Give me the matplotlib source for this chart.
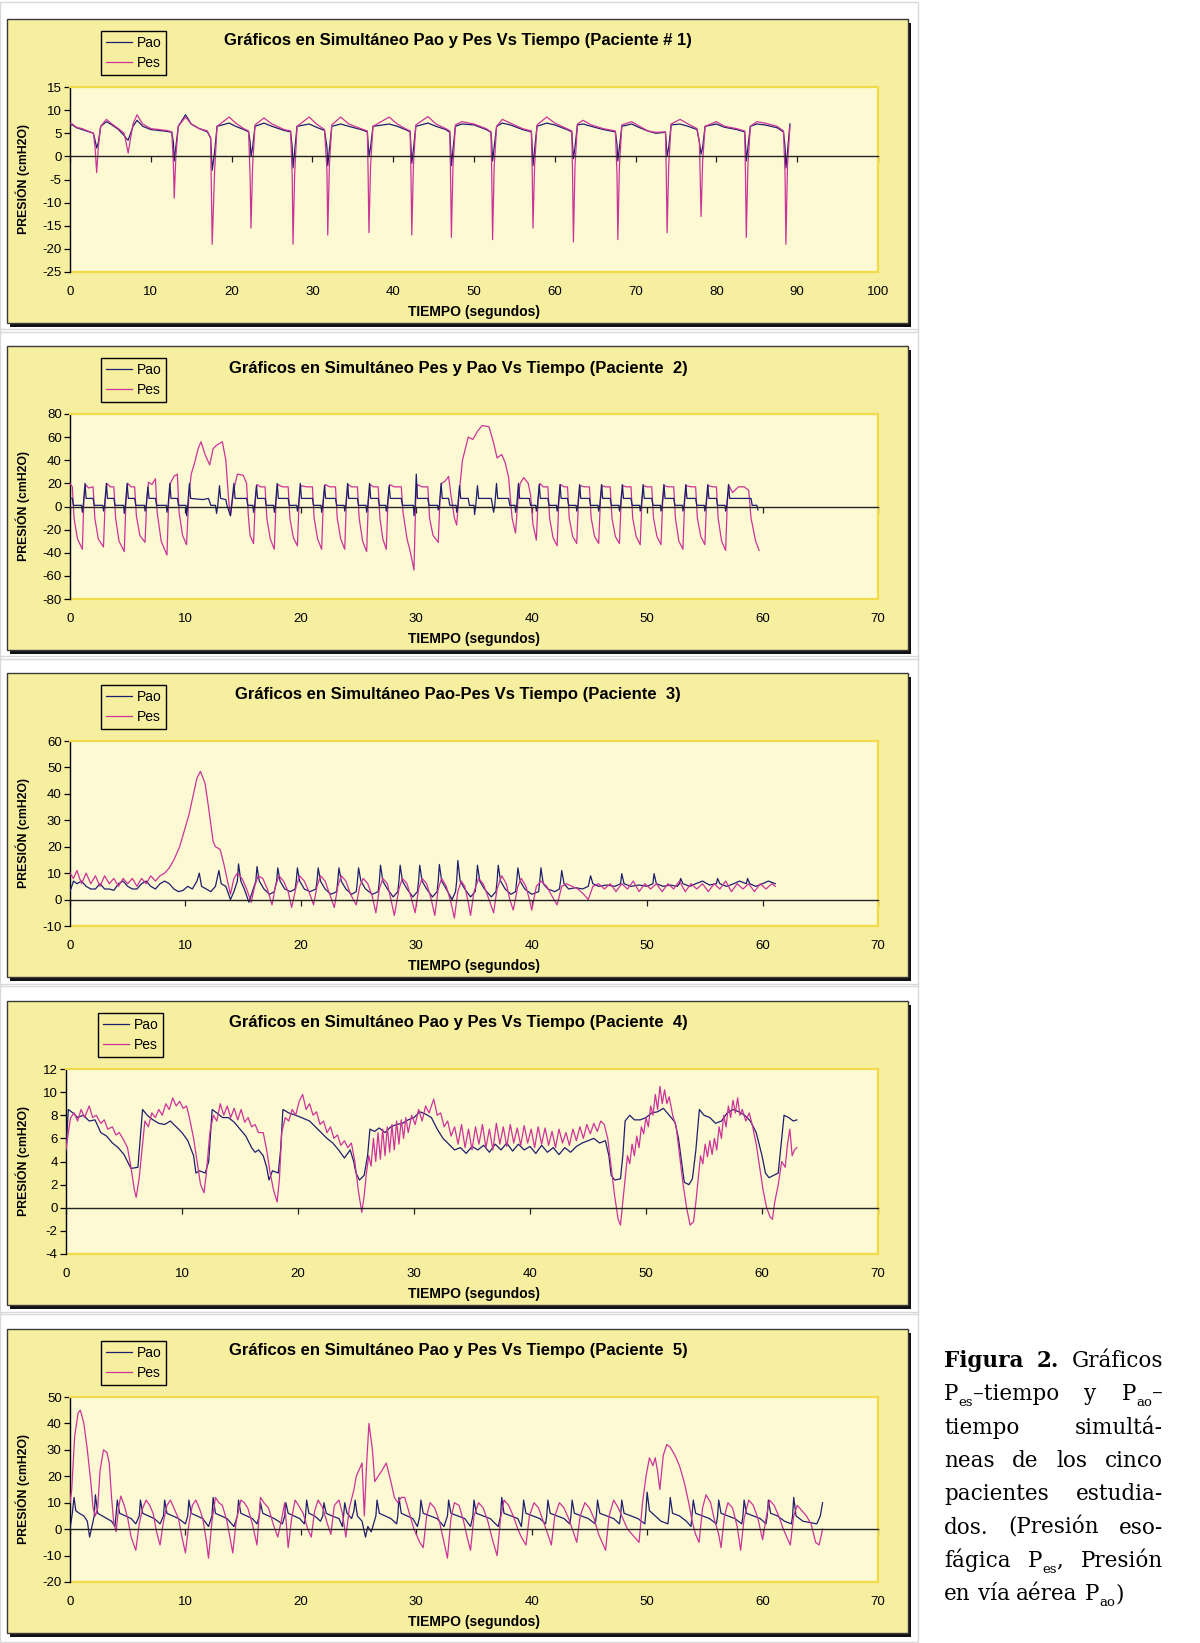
import matplotlib
matplotlib.use('Agg')
import matplotlib.pyplot as plt
from matplotlib.patches import Rectangle

plt.rcParams['axes.unicode_minus'] = False

# ---------------- DATA (time in s, pressure in cmH2O) ----------------
TITLES = [
    "Gráficos en Simultáneo Pao y Pes Vs Tiempo (Paciente # 1)",
    "Gráficos en Simultáneo Pes y Pao Vs Tiempo (Paciente  2)",
    "Gráficos en Simultáneo Pao-Pes Vs Tiempo (Paciente  3)",
    "Gráficos en Simultáneo Pao y Pes Vs Tiempo (Paciente  4)",
    "Gráficos en Simultáneo Pao y Pes Vs Tiempo (Paciente  5)",
]
SERIES_NAMES = ["Pao", "Pes"]
X_LABEL = "TIEMPO (segundos)"
Y_LABEL = "PRESIÓN (cmH2O)"

X_TICKS = [list(range(0, 101, 10)), list(range(0, 71, 10)), list(range(0, 71, 10)),
           list(range(0, 71, 10)), list(range(0, 71, 10))]
Y_TICKS = [list(range(-25, 16, 5)), list(range(-80, 81, 20)), list(range(-10, 61, 10)),
           list(range(-4, 13, 2)), list(range(-20, 51, 10))]

P1_PES = [(0.0, 7.2), (0.3, 7.0), (0.8, 6.3), (1.5, 6.0), (2.2, 5.5), (2.9, 5.0), (3.1, 2.0), (3.3, -3.5),
          (3.5, 2.0), (3.8, 6.5), (4.5, 8.0), (5.2, 7.0), (6.0, 6.0), (6.7, 5.0), (7.0, 2.5), (7.2, 0.7),
          (7.5, 4.0), (7.8, 7.0), (8.3, 9.0), (9.0, 7.0), (10.0, 6.0), (11.0, 5.8), (12.0, 5.6), (12.6, 5.3),
          (12.8, -2), (12.9, -9), (13.1, 0), (13.4, 6.5), (14.3, 8.5), (15.0, 7.0), (16.0, 6.0), (17.0, 5.5),
          (17.4, 4.0), (17.6, -19), (17.9, -3), (18.2, 6.5), (19.7, 8.5), (20.5, 7.2), (21.5, 6.0), (22.1, 5.5),
          (22.3, -5), (22.4, -15.5), (22.6, -2), (22.9, 6.8), (24.0, 8.3), (25.0, 7.0), (26.5, 5.8), (27.3, 5.5),
          (27.5, -4), (27.6, -19), (27.8, -4), (28.1, 6.5), (29.6, 8.5), (30.5, 7.0), (31.5, 5.8), (31.8, -3),
          (31.9, -17), (32.1, -2), (32.4, 6.8), (33.5, 8.5), (34.5, 7.0), (36.0, 6.0), (36.8, 5.5), (36.9, -4),
          (37.0, -16.5), (37.2, -2), (37.5, 6.5), (39.5, 8.5), (40.5, 7.0), (41.5, 6.0), (42.1, 5.5), (42.2, -4),
          (42.3, -17), (42.5, -2), (42.8, 6.8), (44.3, 8.6), (45.3, 7.0), (46.5, 6.0), (47.0, 5.5), (47.1, -4),
          (47.2, -17.5), (47.4, -2), (47.7, 6.8), (48.5, 7.5), (50.0, 7.0), (51.5, 6.0), (52.1, 5.3), (52.2, -4),
          (52.3, -18), (52.5, -2), (52.8, 6.5), (53.5, 8.0), (54.5, 7.2), (56.0, 6.0), (57.1, 5.5), (57.2, -3),
          (57.3, -15.5), (57.5, -2), (57.8, 6.8), (59.0, 8.5), (60.0, 7.2), (61.5, 6.0), (62.1, 5.5), (62.2, -4),
          (62.3, -18.5), (62.5, -2), (62.8, 7.0), (63.5, 7.8), (64.5, 6.8), (66.0, 6.0), (67.5, 5.5), (67.7, -4),
          (67.8, -18), (68.0, -2), (68.3, 6.8), (69.5, 7.5), (70.5, 6.5), (71.5, 5.5), (72.5, 5.2), (73.7, 5.3),
          (73.8, -4), (73.9, -16.5), (74.1, -2), (74.4, 7.0), (75.5, 8.0), (76.5, 7.0), (77.6, 6.0), (77.9, 3),
          (78.1, -13), (78.3, -1), (78.6, 6.5), (80.0, 7.5), (81.0, 6.5), (82.5, 6.0), (83.5, 5.5), (83.6, -4),
          (83.7, -17.5), (83.9, -2), (84.2, 6.5), (85.0, 7.5), (86.0, 7.2), (87.5, 6.5), (88.3, 5.5), (88.5, -4),
          (88.6, -19), (88.8, -2), (89.1, 6.5)]

P1_PAO = [(0.0, 6.8), (0.3, 6.8), (0.8, 6.2), (1.5, 5.8), (2.2, 5.4), (2.9, 5.0), (3.1, 3.5), (3.3, 1.8),
          (3.5, 3.0), (3.8, 6.5), (4.5, 7.5), (5.2, 6.8), (6.0, 5.8), (6.7, 4.5), (7.0, 3.8), (7.2, 3.5),
          (7.5, 5.0), (7.8, 6.5), (8.3, 7.8), (9.0, 6.5), (10.0, 5.8), (11.0, 5.6), (12.0, 5.4), (12.6, 5.2),
          (12.8, 3.0), (12.9, -1.0), (13.1, 2.0), (13.4, 6.5), (14.3, 9.0), (15.0, 7.0), (16.0, 6.0), (17.0, 5.3),
          (17.4, 4.0), (17.6, -3.0), (17.9, 1.0), (18.2, 6.5), (19.7, 7.2), (20.5, 6.5), (21.5, 5.8), (22.1, 5.3),
          (22.3, 3), (22.4, 0), (22.6, 2), (22.9, 6.5), (24.0, 7.2), (25.0, 6.5), (26.5, 5.6), (27.3, 5.3),
          (27.5, 2), (27.6, -2.5), (27.8, 1), (28.1, 6.5), (29.6, 7.0), (30.5, 6.3), (31.5, 5.6), (31.8, 2),
          (31.9, -2), (32.1, 1.5), (32.4, 6.5), (33.5, 7.0), (34.5, 6.5), (36.0, 5.8), (36.8, 5.3), (36.9, 2.5),
          (37.0, 0), (37.2, 2), (37.5, 6.5), (39.5, 7.0), (40.5, 6.5), (41.5, 5.8), (42.1, 5.3), (42.2, 2),
          (42.3, -1.5), (42.5, 1.5), (42.8, 6.5), (44.3, 7.2), (45.3, 6.5), (46.5, 5.8), (47.0, 5.2), (47.1, 2),
          (47.2, -2.0), (47.4, 1.5), (47.7, 6.5), (48.5, 7.0), (50.0, 6.8), (51.5, 5.8), (52.1, 5.2), (52.2, 2.5),
          (52.3, -1.0), (52.5, 2), (52.8, 6.5), (53.5, 7.2), (54.5, 6.8), (56.0, 5.8), (57.1, 5.3), (57.2, 2),
          (57.3, -2.0), (57.5, 1.5), (57.8, 6.5), (59.0, 7.2), (60.0, 6.8), (61.5, 5.8), (62.1, 5.3), (62.2, 2.5),
          (62.3, -0.5), (62.5, 2), (62.8, 6.8), (63.5, 7.0), (64.5, 6.5), (66.0, 5.8), (67.5, 5.3), (67.7, 2.5),
          (67.8, -1.0), (68.0, 2), (68.3, 6.5), (69.5, 7.0), (70.5, 6.2), (71.5, 5.5), (72.5, 5.0), (73.7, 5.2),
          (73.8, 2.5), (73.9, 0), (74.1, 2), (74.4, 6.8), (75.5, 7.0), (76.5, 6.5), (77.6, 5.8), (77.9, 3),
          (78.1, 0.5), (78.3, 2), (78.6, 6.5), (80.0, 7.0), (81.0, 6.3), (82.5, 5.8), (83.5, 5.3), (83.6, 2.5),
          (83.7, -1.0), (83.9, 2), (84.2, 6.5), (85.0, 7.0), (86.0, 6.8), (87.5, 6.2), (88.3, 5.3), (88.5, 2),
          (88.6, -2.5), (88.8, 1.0), (89.1, 7.0)]

P2_PES = [(0.0, 20), (0.2, 17), (0.35, -10), (0.65, -28), (1.07, -37), (1.2, 5), (1.35, 19), (1.6, 16),
          (2.0, 17), (2.15, -10), (2.45, -28), (2.9, -35), (3.05, 5), (3.2, 20), (3.5, 17), (3.8, 17),
          (3.95, -10), (4.25, -30), (4.7, -39), (4.85, 5), (5.0, 20), (5.3, 17), (5.6, 17), (5.75, -8),
          (6.05, -25), (6.5, -31), (6.65, 5), (6.8, 21), (7.1, 19), (7.4, 24), (7.55, -5), (7.9, -30),
          (8.4, -42), (8.55, 5), (8.7, 20), (9.0, 26), (9.3, 28), (9.45, -5), (9.75, -25), (10.1, -33),
          (10.3, 10), (10.5, 28), (10.8, 38), (11.1, 50), (11.35, 56), (11.7, 45), (12.1, 36), (12.4, 50),
          (12.7, 53), (13.2, 56), (13.5, 40), (13.75, 5), (13.9, -8), (14.2, 15), (14.5, 28), (15.0, 27),
          (15.3, 20), (15.45, -8), (15.6, -25), (15.9, -32), (16.05, 5), (16.2, 19), (16.5, 17), (16.9, 17),
          (17.05, -10), (17.35, -28), (17.7, -37), (17.85, 5), (18.0, 19), (18.4, 17), (18.9, 17), (19.05, -10),
          (19.35, -27), (19.7, -34), (19.85, 5), (20.0, 18), (20.5, 17), (21.0, 17), (21.15, -10), (21.45, -28),
          (21.8, -37), (21.95, 5), (22.1, 19), (22.5, 17), (23.0, 17), (23.15, -10), (23.45, -28), (23.8, -37),
          (23.95, 5), (24.1, 19), (24.4, 17), (24.9, 17), (25.05, -10), (25.35, -30), (25.7, -39), (25.85, 5),
          (26.0, 19), (26.3, 17), (26.7, 17), (26.85, -10), (27.1, -28), (27.4, -37), (27.55, 5), (27.7, 19),
          (28.1, 17), (28.7, 17), (28.85, -5), (29.2, -28), (29.5, -40), (29.8, -55), (29.95, 5), (30.1, 19),
          (30.5, 17), (31.0, 17), (31.15, -10), (31.45, -25), (31.9, -31), (32.05, 5), (32.2, 20), (32.5, 22),
          (32.8, 26), (33.0, 10), (33.3, -10), (33.5, -16), (33.7, 10), (34.0, 40), (34.5, 60), (34.9, 58),
          (35.3, 65), (35.7, 70), (36.3, 69), (36.7, 55), (37.0, 42), (37.4, 45), (37.7, 38), (38.0, 25),
          (38.3, -10), (38.6, -23), (38.8, 5), (39.0, 20), (39.3, 25), (39.7, 20), (39.9, 10), (40.1, -15),
          (40.4, -29), (40.55, 5), (40.7, 20), (41.0, 17), (41.4, 17), (41.55, -10), (41.85, -27), (42.2, -34),
          (42.35, 5), (42.5, 19), (42.8, 17), (43.1, 17), (43.25, -10), (43.55, -26), (43.9, -32), (44.05, 5),
          (44.2, 18), (44.6, 17), (45.0, 17), (45.15, -10), (45.45, -26), (45.8, -32), (45.95, 5), (46.1, 18),
          (46.4, 17), (46.8, 17), (46.95, -10), (47.25, -26), (47.6, -32), (47.75, 5), (47.9, 18), (48.2, 17),
          (48.6, 17), (48.75, -10), (49.05, -26), (49.4, -33), (49.55, 5), (49.7, 18), (50.0, 17), (50.4, 17),
          (50.55, -10), (50.85, -26), (51.2, -33), (51.35, 5), (51.5, 18), (51.8, 17), (52.3, 17), (52.45, -10),
          (52.75, -30), (53.1, -37), (53.25, 5), (53.4, 18), (53.8, 17), (54.2, 17), (54.35, -10), (54.65, -26),
          (55.0, -33), (55.15, 5), (55.3, 18), (55.7, 17), (56.0, 17), (56.15, -10), (56.45, -30), (56.8, -38),
          (56.95, 5), (57.1, 18), (57.4, 12), (57.9, 17), (58.4, 17), (58.8, 14), (59.0, -10), (59.4, -30),
          (59.7, -38)]

P2_PAO = [(0.0, 7), (0.2, 7), (0.3, 1), (1.0, 1), (1.07, -5), (1.15, 1), (1.3, 20), (1.4, 7), (2.0, 7),
          (2.1, 1), (2.85, 1), (2.9, -4), (3.0, 1), (3.15, 20), (3.25, 7), (3.8, 7), (3.9, 1), (4.65, 1),
          (4.7, -6), (4.8, 1), (4.95, 20), (5.05, 7), (5.6, 7), (5.7, 1), (6.45, 1), (6.5, -4), (6.6, 1),
          (6.75, 17), (6.85, 7), (7.4, 7), (7.5, 1), (8.35, 1), (8.4, -5), (8.5, 1), (8.65, 20), (8.75, 7),
          (9.3, 7), (9.4, 1), (10.05, 1), (10.1, -8), (10.2, 1), (10.35, 20), (10.45, 7), (11.5, 6), (12.0, 7),
          (12.2, 1), (12.6, 1), (12.7, -6), (12.8, 1), (12.95, 18), (13.05, 7), (13.5, 6), (13.6, 1), (13.9, -8),
          (14.0, 1), (14.2, 20), (14.3, 7), (15.3, 7), (15.4, 1), (15.85, 1), (15.9, -5), (16.0, 1), (16.15, 18),
          (16.25, 7), (16.9, 7), (17.0, 1), (17.65, 1), (17.7, -5), (17.8, 1), (17.95, 20), (18.05, 7),
          (18.9, 7), (19.0, 1), (19.65, 1), (19.7, -4), (19.8, 1), (19.95, 20), (20.05, 7), (21.0, 7), (21.1, 1),
          (21.75, 1), (21.8, -5), (21.9, 1), (22.05, 18), (22.15, 7), (23.0, 7), (23.1, 1), (23.75, 1),
          (23.8, -4), (23.9, 1), (24.05, 20), (24.15, 7), (24.9, 7), (25.0, 1), (25.65, 1), (25.7, -5),
          (25.8, 1), (25.95, 20), (26.05, 7), (26.7, 7), (26.8, 1), (27.35, 1), (27.4, -4), (27.5, 1),
          (27.65, 18), (27.75, 7), (28.7, 7), (28.8, 1), (29.75, 1), (29.8, -8), (29.9, 1), (30.0, 28),
          (30.1, 7), (31.0, 7), (31.1, 1), (31.85, 1), (31.9, -3), (32.0, 1), (32.15, 20), (32.25, 7),
          (32.8, 7), (32.9, 1), (33.45, 1), (33.5, -5), (33.6, 1), (33.75, 18), (33.85, 7), (34.5, 7),
          (34.6, 1), (35.0, 1), (35.05, -7), (35.15, 1), (35.3, 18), (35.4, 7), (36.5, 7), (36.6, 1),
          (36.7, -5), (36.8, 1), (36.95, 20), (37.05, 7), (38.0, 7), (38.1, 1), (38.55, 1), (38.6, -5),
          (38.7, 1), (38.85, 20), (38.95, 7), (39.8, 7), (39.9, 1), (40.35, 1), (40.4, -4), (40.5, 1),
          (40.65, 19), (40.75, 7), (41.4, 7), (41.5, 1), (42.15, 1), (42.2, -4), (42.3, 1), (42.45, 19),
          (42.55, 7), (43.1, 7), (43.2, 1), (43.85, 1), (43.9, -4), (44.0, 1), (44.15, 19), (44.25, 7),
          (45.0, 7), (45.1, 1), (45.75, 1), (45.8, -4), (45.9, 1), (46.05, 19), (46.15, 7), (46.8, 7),
          (46.9, 1), (47.55, 1), (47.6, -4), (47.7, 1), (47.85, 19), (47.95, 7), (48.6, 7), (48.7, 1),
          (49.35, 1), (49.4, -4), (49.5, 1), (49.65, 19), (49.75, 7), (50.4, 7), (50.5, 1), (51.15, 1),
          (51.2, -4), (51.3, 1), (51.45, 19), (51.55, 7), (52.3, 7), (52.4, 1), (53.05, 1), (53.1, -4),
          (53.2, 1), (53.35, 19), (53.45, 7), (54.2, 7), (54.3, 1), (54.95, 1), (55.0, -4), (55.1, 1),
          (55.25, 19), (55.35, 7), (56.0, 7), (56.1, 1), (56.75, 1), (56.8, -4), (56.9, 1), (57.05, 19),
          (57.15, 7), (59.0, 7), (59.1, 1), (59.5, 1), (59.6, -3)]

P3_PES = [(0.0, 10), (0.3, 8), (0.6, 11), (1.0, 6), (1.4, 10), (1.8, 6), (2.2, 9), (2.6, 5), (3.0, 9),
          (3.4, 6), (3.8, 8), (4.2, 5), (4.6, 8), (5.0, 6), (5.4, 8), (5.8, 5), (6.2, 8), (6.6, 6), (7.0, 9),
          (7.4, 7), (7.8, 9), (8.2, 10), (8.6, 12), (9.0, 15), (9.5, 20), (9.9, 26), (10.3, 32), (10.7, 40),
          (11.0, 46), (11.3, 48.5), (11.7, 44), (12.0, 35), (12.4, 22), (12.6, 20), (13.0, 19), (13.3, 14),
          (13.6, 8), (13.9, 2), (14.2, 8), (14.5, 10), (14.9, 8), (15.3, 4), (15.7, -1), (16.0, 5), (16.3, 9),
          (16.7, 8), (17.1, 4), (17.5, -2), (17.8, 5), (18.1, 9), (18.5, 7), (18.9, 3), (19.2, -3), (19.6, 5),
          (19.9, 9), (20.3, 7), (20.7, 3), (21.1, -2), (21.4, 5), (21.7, 9), (22.1, 7), (22.5, 2), (22.9, -3),
          (23.2, 5), (23.5, 9), (23.9, 7), (24.3, 2), (24.8, -2), (25.1, 5), (25.4, 8), (25.8, 6), (26.2, 1),
          (26.5, -5), (26.8, 4), (27.1, 8), (27.5, 6), (27.8, 0), (28.1, -6), (28.5, 4), (28.8, 8), (29.2, 6),
          (29.6, 0), (29.9, -5), (30.2, 4), (30.5, 8), (30.9, 6), (31.3, 0), (31.6, -6), (31.9, 4), (32.2, 8),
          (32.6, 5), (33.0, -1), (33.3, -7), (33.6, 3), (33.9, 7), (34.2, 5), (34.5, -1), (34.7, -6), (35.0, 3),
          (35.4, 8), (35.8, 6), (36.3, 0), (36.7, -5), (37.0, 4), (37.4, 9), (37.8, 6), (38.1, 0), (38.4, -4),
          (38.8, 5), (39.1, 8), (39.5, 5), (39.8, 0), (40.0, -4), (40.4, 5), (40.8, 7), (41.3, 5), (41.8, 1),
          (42.2, -2), (42.6, 5), (43.0, 6), (43.5, 5), (44.0, 4), (44.5, 2), (44.9, 0), (45.3, 5), (45.8, 6),
          (46.3, 4), (46.8, 6), (47.3, 3), (47.8, 6), (48.3, 4), (48.8, 7), (49.3, 3), (49.8, 6), (50.3, 4),
          (50.8, 6), (51.3, 3), (51.8, 6), (52.3, 4), (52.8, 7), (53.3, 3), (53.8, 6), (54.3, 4), (54.8, 6),
          (55.3, 3), (55.8, 6), (56.3, 4), (56.8, 7), (57.3, 3), (57.8, 6), (58.3, 4), (58.8, 6), (59.3, 3),
          (59.8, 6), (60.3, 4), (60.8, 6), (61.1, 5)]

P3_PAO = [(0.0, 3), (0.3, 7), (0.6, 6), (1.0, 7), (1.4, 5), (1.8, 4), (2.2, 4), (2.6, 6), (3.0, 4), (3.4, 4),
          (3.8, 3.5), (4.2, 6), (4.6, 7), (5.0, 5), (5.4, 4), (5.8, 4), (6.2, 6), (6.6, 7), (7.0, 5), (7.4, 4),
          (7.8, 6), (8.2, 7), (8.6, 6), (9.0, 4), (9.4, 3), (9.8, 3.5), (10.2, 5), (10.6, 4), (11.0, 7),
          (11.2, 10), (11.4, 5), (11.8, 4), (12.2, 3), (12.6, 5), (12.9, 11), (13.1, 6), (13.5, 5), (13.9, 0),
          (14.2, 3), (14.5, 7), (14.6, 13.5), (14.8, 7), (15.1, 4), (15.5, -1), (15.8, 3), (16.1, 7), (16.2, 12.5),
          (16.4, 7), (16.8, 4), (17.3, 2), (17.7, 3), (17.9, 7), (18.0, 12), (18.2, 7), (18.6, 4), (19.1, 3),
          (19.5, 4), (19.6, 7), (19.7, 12), (19.9, 7), (20.3, 4), (20.8, 3), (21.3, 4), (21.4, 7), (21.5, 12),
          (21.7, 7), (22.1, 4), (22.6, 2), (23.1, 3), (23.2, 7), (23.3, 12), (23.5, 7), (23.9, 4), (24.4, 2),
          (24.8, 3), (24.9, 7), (25.0, 12), (25.2, 7), (25.6, 4), (26.2, 2), (26.7, 3), (26.8, 7), (26.9, 13),
          (27.1, 7), (27.5, 4), (28.0, 1), (28.4, 3), (28.5, 7), (28.6, 13), (28.8, 7), (29.2, 4), (29.7, 1),
          (30.1, 3), (30.2, 7), (30.3, 13), (30.5, 7), (30.9, 4), (31.4, 1), (31.8, 3), (31.9, 7), (32.0, 13.3),
          (32.2, 7), (32.6, 4), (33.1, 0), (33.4, 3), (33.5, 7), (33.6, 14.8), (33.8, 7), (34.2, 4), (34.7, 1),
          (35.1, 3), (35.2, 7), (35.3, 13), (35.5, 7), (35.9, 4), (36.5, 1), (36.9, 3), (37.0, 7), (37.1, 13),
          (37.3, 7), (37.7, 4), (38.2, 2), (38.6, 3), (38.7, 7), (38.8, 12), (39.0, 7), (39.4, 4), (40.0, 2),
          (40.6, 3), (40.7, 7), (40.8, 12), (41.0, 6), (41.4, 4), (42.0, 3), (42.4, 4), (42.5, 7), (42.6, 11),
          (42.8, 6), (43.2, 4), (43.8, 4.5), (44.4, 4), (44.9, 5), (45.0, 7), (45.1, 9), (45.3, 6), (45.8, 5),
          (46.5, 5.5), (47.2, 5), (47.7, 6), (47.8, 9.8), (48.0, 6), (48.6, 5), (49.3, 5.5), (50.0, 5), (50.5, 6),
          (50.6, 9.8), (50.8, 6), (51.4, 5), (52.0, 5.5), (52.6, 5), (52.8, 6), (52.9, 8), (53.1, 6), (53.7, 5),
          (54.2, 6), (54.8, 7), (55.4, 5.5), (56.0, 6), (56.1, 8), (56.3, 6), (56.9, 5), (57.5, 6), (58.0, 7),
          (58.6, 6), (58.7, 8), (58.9, 6), (59.4, 5), (60.0, 6), (60.5, 7), (61.1, 6)]

P4_PAO = [(0.0, 4.9), (0.2, 8.5), (0.6, 8.2), (1.0, 7.8), (1.5, 8.0), (2.0, 7.5), (2.5, 7.6), (3.0, 6.5),
          (3.5, 6.2), (4.0, 5.6), (4.5, 5.2), (5.0, 4.6), (5.4, 3.8), (5.6, 3.4), (6.2, 3.5), (6.4, 6.0),
          (6.6, 8.5), (7.0, 8.0), (7.5, 7.6), (8.0, 7.3), (8.5, 7.2), (9.0, 7.5), (9.5, 7.0), (10.0, 6.5),
          (10.5, 5.8), (11.0, 4.5), (11.2, 3.0), (11.5, 3.2), (12.0, 3.0), (12.3, 4.0), (12.6, 8.5), (13.0, 8.2),
          (13.5, 7.8), (14.0, 7.8), (14.5, 7.4), (15.0, 6.8), (15.5, 6.2), (16.0, 5.2), (16.3, 4.8), (16.6, 5.0),
          (17.0, 4.5), (17.3, 3.5), (17.5, 2.4), (17.8, 3.2), (18.3, 3.0), (18.5, 5.0), (18.7, 8.5), (19.2, 8.2),
          (19.8, 8.0), (20.3, 7.8), (21.0, 7.5), (21.5, 7.0), (22.0, 6.5), (22.5, 6.0), (23.0, 5.6), (23.5, 5.0),
          (24.0, 4.3), (24.5, 5.0), (24.8, 4.0), (25.0, 3.0), (25.3, 2.4), (25.7, 2.8), (26.0, 4.5), (26.2, 6.8),
          (26.6, 6.6), (27.0, 6.9), (27.5, 6.5), (28.0, 7.0), (28.5, 7.2), (29.0, 7.3), (29.5, 7.6), (30.0, 7.8),
          (30.5, 8.3), (31.0, 8.1), (31.5, 7.8), (32.0, 6.8), (32.5, 6.0), (33.0, 5.5), (33.5, 5.0), (34.0, 5.2),
          (34.5, 4.7), (35.0, 5.3), (35.5, 5.0), (36.0, 5.4), (36.5, 4.8), (37.0, 5.5), (37.5, 5.0), (38.0, 5.6),
          (38.5, 4.9), (39.0, 5.5), (39.5, 5.0), (40.0, 5.3), (40.5, 4.7), (41.0, 5.4), (41.5, 4.8), (42.0, 5.2),
          (42.5, 4.6), (43.0, 5.2), (43.5, 4.8), (44.0, 5.3), (44.5, 5.6), (45.0, 5.8), (45.5, 6.0), (46.0, 5.6),
          (46.5, 5.8), (46.8, 4.5), (47.0, 2.8), (47.3, 2.4), (47.8, 2.5), (48.0, 4.5), (48.2, 7.5), (48.6, 8.0),
          (49.0, 7.6), (49.5, 7.6), (50.0, 7.8), (50.5, 8.2), (51.0, 8.3), (51.5, 8.6), (52.0, 8.0), (52.5, 7.4),
          (52.8, 6.0), (53.0, 4.5), (53.3, 2.2), (53.7, 2.0), (54.0, 2.5), (54.3, 5.0), (54.6, 8.5), (55.0, 8.0),
          (55.5, 7.8), (56.0, 7.3), (56.5, 7.5), (57.0, 8.2), (57.5, 8.5), (58.0, 8.3), (58.5, 8.0), (59.0, 7.5),
          (59.5, 6.5), (60.0, 4.5), (60.3, 3.0), (60.6, 2.6), (61.0, 2.8), (61.4, 3.0), (61.7, 6.0), (61.9, 8.0),
          (62.3, 7.8), (62.7, 7.5), (63.0, 7.6)]

P4_PES = [(0.0, 5.0), (0.2, 6.5), (0.4, 7.8), (0.7, 8.2), (1.0, 7.5), (1.3, 8.5), (1.6, 7.8), (2.0, 8.8),
          (2.3, 7.8), (2.6, 8.0), (3.0, 7.3), (3.3, 7.6), (3.6, 6.8), (4.0, 7.0), (4.3, 6.3), (4.6, 6.5),
          (5.0, 5.8), (5.3, 5.2), (5.6, 3.5), (5.9, 1.5), (6.05, 0.9), (6.3, 2.5), (6.6, 5.5), (6.8, 7.5),
          (7.1, 7.0), (7.4, 8.2), (7.7, 7.8), (8.0, 8.5), (8.3, 8.0), (8.6, 9.0), (8.9, 8.5), (9.2, 9.5),
          (9.5, 8.8), (9.8, 9.2), (10.1, 8.6), (10.4, 8.8), (10.7, 7.5), (11.0, 6.0), (11.3, 4.0), (11.6, 2.0),
          (11.9, 1.3), (12.1, 3.0), (12.4, 6.5), (12.7, 8.0), (13.0, 7.5), (13.3, 9.0), (13.6, 8.0), (13.9, 8.8),
          (14.2, 7.8), (14.5, 8.6), (14.8, 7.6), (15.1, 8.5), (15.4, 7.4), (15.7, 7.8), (16.0, 7.0), (16.3, 7.2),
          (16.6, 6.5), (17.0, 6.5), (17.3, 5.0), (17.6, 3.0), (17.9, 1.5), (18.2, 0.5), (18.4, 2.5), (18.6, 6.5),
          (18.9, 7.8), (19.2, 7.5), (19.5, 8.5), (19.8, 8.0), (20.1, 9.2), (20.4, 9.8), (20.7, 8.5), (21.0, 9.0),
          (21.3, 8.0), (21.6, 8.3), (21.9, 7.2), (22.2, 7.5), (22.5, 6.5), (22.8, 7.0), (23.1, 6.0), (23.4, 6.3),
          (23.7, 5.4), (24.0, 5.8), (24.3, 5.2), (24.6, 5.6), (24.9, 4.0), (25.2, 1.5), (25.5, -0.4), (25.7, 1.0),
          (25.9, 3.0), (26.1, 4.5), (26.3, 3.6), (26.5, 6.0), (26.7, 4.0), (26.9, 6.5), (27.1, 4.2), (27.3, 6.8),
          (27.5, 4.5), (27.7, 7.0), (27.9, 4.8), (28.1, 7.2), (28.3, 5.0), (28.5, 7.5), (28.7, 5.5), (28.9, 7.6),
          (29.1, 6.0), (29.3, 7.8), (29.5, 6.5), (29.8, 8.0), (30.1, 7.2), (30.4, 8.5), (30.7, 7.5), (31.0, 8.8),
          (31.3, 8.2), (31.7, 9.4), (32.0, 8.0), (32.3, 8.2), (32.6, 7.0), (32.9, 7.5), (33.2, 6.2), (33.5, 7.0),
          (33.8, 5.5), (34.1, 7.2), (34.4, 5.2), (34.7, 6.8), (35.0, 5.0), (35.3, 7.0), (35.6, 5.5), (35.9, 7.2),
          (36.2, 5.2), (36.5, 6.8), (36.8, 5.0), (37.1, 7.3), (37.4, 5.5), (37.7, 7.0), (38.0, 5.3), (38.3, 7.2),
          (38.6, 5.6), (38.9, 6.9), (39.2, 5.4), (39.5, 7.1), (39.8, 5.6), (40.1, 6.8), (40.4, 5.2), (40.7, 7.0),
          (41.0, 5.5), (41.3, 6.9), (41.6, 5.4), (41.9, 6.6), (42.2, 5.2), (42.5, 6.8), (42.8, 5.6), (43.1, 6.5),
          (43.4, 5.4), (43.7, 6.8), (44.0, 5.8), (44.3, 7.0), (44.6, 6.0), (44.9, 7.2), (45.2, 6.4), (45.5, 7.3),
          (45.8, 6.6), (46.1, 7.5), (46.4, 7.2), (46.7, 6.0), (47.0, 3.5), (47.3, 1.0), (47.6, -1.0), (47.8, -1.5),
          (48.0, 0.5), (48.2, 2.5), (48.4, 4.5), (48.6, 3.8), (48.8, 5.5), (49.0, 4.5), (49.2, 6.2), (49.4, 5.2),
          (49.6, 7.0), (49.8, 6.4), (50.0, 7.8), (50.2, 7.0), (50.4, 8.8), (50.6, 8.0), (50.8, 9.8), (51.0, 8.5),
          (51.2, 10.5), (51.4, 9.0), (51.6, 10.2), (51.8, 9.0), (52.0, 9.6), (52.3, 8.0), (52.6, 7.0), (52.9, 4.5),
          (53.2, 2.0), (53.5, 0.0), (53.8, -1.5), (54.1, -1.2), (54.3, 0.5), (54.5, 2.5), (54.7, 4.5), (54.9, 3.8),
          (55.1, 5.5), (55.3, 4.4), (55.5, 5.8), (55.7, 4.6), (55.9, 6.0), (56.1, 5.0), (56.3, 7.0), (56.5, 6.0),
          (56.7, 8.0), (56.9, 7.0), (57.1, 8.8), (57.3, 7.8), (57.5, 9.3), (57.7, 8.2), (57.9, 9.5), (58.1, 8.0),
          (58.3, 8.5), (58.6, 7.5), (58.9, 8.2), (59.2, 7.0), (59.5, 5.5), (59.8, 3.5), (60.1, 1.5), (60.4, 0.0),
          (60.7, -0.8), (60.9, -1.0), (61.1, 0.5), (61.4, 2.0), (61.7, 4.0), (62.0, 3.5), (62.2, 5.5), (62.4, 6.8),
          (62.6, 4.5), (62.8, 5.0), (63.0, 5.2)]

P5_PES = [(0.0, 10), (0.15, 15), (0.4, 35), (0.7, 44), (0.9, 45), (1.2, 40), (1.5, 30), (1.8, 18), (2.0, 8),
          (2.2, 5), (2.4, 8), (2.6, 22), (2.9, 30), (3.2, 29), (3.4, 25), (3.6, 12), (3.8, 2), (4.0, -1),
          (4.2, 8), (4.4, 12.5), (4.7, 9), (5.0, 4), (5.3, -3), (5.7, -8), (6.0, 2), (6.3, 8), (6.6, 11),
          (6.9, 9), (7.2, 6), (7.5, -1), (7.8, -6), (8.1, 3), (8.4, 9), (8.7, 11), (9.0, 8), (9.4, 4), (9.7, -3),
          (10.0, -9), (10.3, 2), (10.6, 9), (10.9, 11), (11.2, 8), (11.5, 4), (11.8, -4), (12.0, -11), (12.3, 3),
          (12.6, 12), (12.9, 10), (13.2, 9), (13.6, 3), (14.1, -9), (14.4, 3), (14.8, 11), (15.1, 10), (15.4, 8),
          (15.8, 2), (16.2, -6), (16.5, 12), (16.8, 10), (17.2, 8), (17.6, 2), (18.0, -3), (18.3, 3), (18.6, 10),
          (18.9, -7), (19.2, 4), (19.5, 11), (19.8, 9), (20.2, 6), (20.6, 0), (20.9, -3), (21.2, 7), (21.5, 11),
          (21.9, 8), (22.3, 2), (22.6, -2), (22.9, 9), (23.3, 11), (23.6, 6), (23.9, -3), (24.2, 8), (24.6, 15),
          (24.8, 20), (25.1, 23), (25.3, 25), (25.5, 5), (25.7, 25), (25.9, 40), (26.2, 30), (26.4, 18),
          (26.7, 20), (27.0, 22), (27.4, 25), (27.8, 18), (28.1, 12), (28.4, 10), (28.7, 12), (29.0, 12),
          (29.4, 6), (29.8, 0), (30.3, -5), (30.6, -7), (30.9, 5), (31.2, 10), (31.6, 8), (32.0, 3), (32.4, -5),
          (32.7, -11), (33.0, 4), (33.3, 10), (33.7, 9), (34.1, 3), (34.4, -3), (34.7, -8), (35.0, 5), (35.4, 10),
          (35.8, 8), (36.2, 3), (36.6, -4), (37.0, -10), (37.3, 4), (37.6, 11), (38.0, 9), (38.4, 5), (38.8, 0),
          (39.1, -3), (39.5, -6), (39.8, 5), (40.2, 10), (40.6, 8), (41.0, 3), (41.4, -2), (41.7, -6), (42.0, 5),
          (42.4, 10), (42.8, 8), (43.2, 4), (43.6, -1), (43.9, -5), (44.2, 5), (44.6, 10), (45.0, 8), (45.4, 4),
          (45.8, -2), (46.4, -8), (46.7, 5), (47.1, 11), (47.5, 8), (47.9, 4), (48.3, 0), (48.9, -3), (49.3, -5),
          (49.6, 10), (49.9, 20), (50.2, 27), (50.5, 24), (50.7, 27), (50.9, 22), (51.1, 15), (51.4, 28),
          (51.7, 32), (52.0, 31), (52.4, 28), (52.8, 24), (53.2, 18), (53.6, 10), (53.9, 3), (54.2, -2),
          (54.5, -5), (54.8, 8), (55.1, 13), (55.5, 10), (55.8, 4), (56.2, -2), (56.4, -7), (56.7, 5), (57.0, 10),
          (57.4, 8), (57.8, 1), (58.1, -8), (58.4, 4), (58.8, 11), (59.2, 9), (59.6, 4), (60.0, -4), (60.3, 4),
          (60.6, 11), (61.0, 9), (61.4, 5), (61.8, 0), (62.4, -6), (62.7, 5), (63.0, 9), (63.4, 7), (63.8, 5),
          (64.2, 2), (64.6, -5), (64.9, -6), (65.2, 0)]

P5_PAO = [(0.0, 0), (0.2, 6), (0.35, 12), (0.5, 7), (0.8, 6), (1.2, 5), (1.5, 3), (1.7, -3), (1.9, 1),
          (2.1, 5), (2.2, 13), (2.4, 6), (2.8, 5), (3.2, 4), (3.6, 3), (3.9, 1), (4.0, 6), (4.1, 11), (4.3, 6),
          (4.8, 5), (5.3, 4), (5.7, 2), (6.0, 5), (6.1, 11), (6.3, 6), (6.8, 5), (7.3, 4), (7.8, 2), (8.1, 5),
          (8.2, 11), (8.4, 6), (8.9, 5), (9.4, 4), (10.0, 2), (10.2, 5), (10.3, 11), (10.5, 6), (11.0, 5),
          (11.5, 4), (12.0, 1), (12.3, 5), (12.4, 12), (12.6, 6), (13.1, 5), (13.6, 4), (14.2, 1), (14.5, 5),
          (14.6, 11), (14.8, 6), (15.3, 5), (15.8, 4), (16.2, 2), (16.4, 5), (16.5, 10), (16.7, 6), (17.2, 5),
          (17.7, 4), (18.4, 2), (18.6, 5), (18.7, 10), (18.9, 6), (19.4, 5), (19.9, 4), (20.3, 2), (20.4, 5),
          (20.5, 11), (20.7, 6), (21.2, 5), (21.7, 3), (21.9, 5), (22.0, 10), (22.2, 6), (22.7, 5), (23.3, 4),
          (23.6, 1), (23.7, 5), (23.8, 10), (24.0, 6), (24.4, 4), (24.6, 7), (24.7, 11), (24.9, 5), (25.3, 3),
          (25.6, -3), (25.8, 1), (26.1, -1), (26.5, 5), (26.6, 11), (26.8, 6), (27.3, 5), (27.8, 4), (28.3, 2),
          (28.4, 5), (28.5, 12), (28.7, 6), (29.2, 5), (29.7, 4), (30.1, 1), (30.3, 5), (30.4, 11), (30.6, 6),
          (31.2, 5), (31.8, 4), (32.4, 1), (32.7, 5), (32.8, 11), (33.0, 6), (33.6, 5), (34.2, 4), (34.7, 1),
          (34.9, 5), (35.0, 11), (35.2, 6), (35.8, 5), (36.4, 4), (37.1, 1), (37.3, 5), (37.4, 12), (37.6, 6),
          (38.2, 5), (38.8, 4), (39.1, 1), (39.2, 5), (39.3, 11), (39.5, 6), (40.1, 5), (40.7, 4), (41.2, 2),
          (41.3, 5), (41.4, 11), (41.6, 6), (42.2, 5), (42.8, 4), (43.3, 2), (43.4, 5), (43.5, 11), (43.7, 6),
          (44.3, 5), (44.9, 4), (45.5, 2), (45.6, 5), (45.7, 11), (45.9, 6), (46.5, 5), (47.1, 4), (47.6, 2),
          (47.7, 5), (47.8, 11), (48.0, 6), (48.6, 5), (49.2, 4), (49.8, 2), (49.9, 7), (50.0, 14), (50.2, 7),
          (50.7, 5), (51.2, 3), (51.8, 2), (51.9, 6), (52.0, 12), (52.2, 6), (52.8, 5), (53.4, 3), (53.8, 1),
          (53.9, 6), (54.0, 11), (54.2, 6), (54.8, 5), (55.4, 4), (56.0, 2), (56.1, 5), (56.2, 11), (56.4, 6),
          (57.0, 5), (57.6, 4), (58.2, 2), (58.3, 5), (58.4, 11), (58.6, 6), (59.2, 5), (59.8, 4), (60.3, 2),
          (60.4, 5), (60.5, 11), (60.7, 6), (61.3, 5), (61.9, 3), (62.5, 2), (62.6, 5), (62.7, 12), (62.9, 5),
          (63.5, 3), (64.1, 2.5), (64.7, 2), (65.0, 5), (65.2, 10)]

PAO_SERIES = [P1_PAO, P2_PAO, P3_PAO, P4_PAO, P5_PAO]
PES_SERIES = [P1_PES, P2_PES, P3_PES, P4_PES, P5_PES]

# ---------------- STYLE / LAYOUT ----------------
W, H = 1200, 1643
PANEL_TOPS = [19, 346, 673, 1001, 1329]
AX_LEFT = [70, 70, 70, 66, 70]
PANEL_FACE = '#F7EFA0'
PLOT_FACE = '#FDF9D3'
PLOT_EDGE = '#F0DC48'
PAO_COLOR = '#1E1E6E'
PES_COLOR = '#CC3399'
NARROW = ['Liberation Sans Narrow', 'Liberation Sans', 'DejaVu Sans']
ARIAL = ['Liberation Sans', 'DejaVu Sans']

fig = plt.figure(figsize=(W / 100, H / 100), dpi=100)
fig.patch.set_facecolor('white')


def fx(px):
    return px / W


def fy(py):
    return 1 - py / H


for i in range(5):
    top = PANEL_TOPS[i]
    fig.add_artist(Rectangle((fx(0), fy(top + 313)), fx(918), 330 / H, transform=fig.transFigure,
                             facecolor='none', edgecolor='#D9D9D9', lw=1, zorder=-5))
    fig.add_artist(Rectangle((fx(10), fy(top + 308)), fx(901), 304 / H, transform=fig.transFigure,
                             facecolor='#111111', edgecolor='none', zorder=-4))
    fig.add_artist(Rectangle((fx(7), fy(top + 304)), fx(901), 304 / H, transform=fig.transFigure,
                             facecolor=PANEL_FACE, edgecolor='#3A3A3A', lw=1.0, zorder=-3))

    left = AX_LEFT[i]
    ax = fig.add_axes([fx(left), fy(top + 253), fx(878 - left), 185 / H])
    ax.set_zorder(2)
    ax.set_facecolor(PLOT_FACE)
    xt, yt = X_TICKS[i], Y_TICKS[i]
    ax.set_xlim(xt[0], xt[-1])
    ax.set_ylim(yt[0], yt[-1])

    t_pao, v_pao = zip(*PAO_SERIES[i])
    t_pes, v_pes = zip(*PES_SERIES[i])
    l1, = ax.plot(t_pao, v_pao, color=PAO_COLOR, lw=0.9, label=SERIES_NAMES[0], zorder=3)
    l2, = ax.plot(t_pes, v_pes, color=PES_COLOR, lw=0.9, label=SERIES_NAMES[1], zorder=4)
    if i == 1:
        l1.set_zorder(5)

    for s in ['top', 'right']:
        ax.spines[s].set_color(PLOT_EDGE)
        ax.spines[s].set_linewidth(1.6)
    ax.spines['left'].set_color('black')
    ax.spines['left'].set_linewidth(1.0)
    ax.spines['bottom'].set_position(('data', 0))
    ax.spines['bottom'].set_color('#222222')
    ax.spines['bottom'].set_linewidth(1.0)
    ax.spines['bottom'].set_zorder(6)
    ax.add_patch(Rectangle((0, 0), 1, 0.0, transform=ax.transAxes, facecolor='none',
                           edgecolor=PLOT_EDGE, lw=1.6, clip_on=False, zorder=1))

    ax.set_xticks(xt)
    ax.set_yticks(yt)
    ax.tick_params(axis='x', direction='out', length=4, width=0.9, color='#222222', labelbottom=False)
    ax.tick_params(axis='y', direction='out', length=4, width=0.9, color='black', labelsize=9.5, pad=2)
    for lab in ax.get_yticklabels():
        lab.set_fontfamily(NARROW)
    for v in xt:
        ax.annotate(str(v), xy=(v, 0), xycoords=('data', 'axes fraction'), xytext=(0, -14.5),
                    textcoords='offset points', ha='center', va='center', fontsize=9.5,
                    family=NARROW, annotation_clip=False)

    fig.text(fx(474), fy(top + 293), X_LABEL, ha='center', va='center', fontsize=10,
             fontweight='bold', family=NARROW)
    fig.text(fx(23), fy(top + 160), Y_LABEL, ha='center', va='center', rotation=90, fontsize=8.8,
             fontweight='bold', family=ARIAL)
    fig.text(fx(458), fy(top + 22), TITLES[i], ha='center', va='center', fontsize=12,
             fontweight='bold', family=NARROW)

    leg = fig.legend(handles=[l1, l2], labels=SERIES_NAMES, loc='upper left',
                     bbox_to_anchor=(fx(101 if i != 3 else 98), fy(top + 12)),
                     frameon=True, fancybox=False, edgecolor='black', facecolor=PANEL_FACE,
                     framealpha=1, handlelength=1.9, handletextpad=0.3, borderpad=0.35,
                     labelspacing=0.45, borderaxespad=0, prop={'family': NARROW, 'size': 10})
    leg.get_frame().set_linewidth(1.0)
    leg.set_zorder(10)

# ---------------- CAPTION (justified) ----------------
CAPTION = [
    [[("Figura", 'b')], [("2.", 'b')], [("Gráficos", 'r')]],
    [[("P", 'r'), ("es", 's'), ("–tiempo", 'r')], [("y", 'r')], [("P", 'r'), ("ao", 's'), ("–", 'r')]],
    [[("tiempo", 'r')], [("simultá-", 'r')]],
    [[("neas", 'r')], [("de", 'r')], [("los", 'r')], [("cinco", 'r')]],
    [[("pacientes", 'r')], [("estudia-", 'r')]],
    [[("dos.", 'r')], [("(Presión", 'r')], [("eso-", 'r')]],
    [[("fágica", 'r')], [("P", 'r'), ("es", 's'), (",", 'r')], [("Presión", 'r')]],
    [[("en", 'r')], [("vía", 'r')], [("aérea", 'r')], [("P", 'r'), ("ao", 's'), (")", 'r')]],
]
CAP_X0, CAP_X1 = 944, 1163
CAP_Y0, CAP_DY = 1367, 33.3
SERIF = ['DejaVu Serif']
renderer = fig.canvas.get_renderer()


def make_run(x, y, s, style):
    size = 15.5 if style != 's' else 9.5
    dy = 6 if style == 's' else 0
    t = fig.text(fx(x), fy(y + dy), s, ha='left', va='baseline', fontsize=size,
                 fontweight='bold' if style == 'b' else 'normal', family=SERIF)
    return t


def word_width(word):
    w = 0
    for s, st in word:
        t = make_run(0, 0, s, st)
        w += t.get_window_extent(renderer).width
        t.remove()
    return w


space_w = word_width([("n n", 'r')]) - 2 * word_width([("n", 'r')])
for li, line in enumerate(CAPTION):
    y = CAP_Y0 + li * CAP_DY
    widths = [word_width(wd) for wd in line]
    if li == len(CAPTION) - 1 or len(line) == 1:
        gap = space_w
    else:
        gap = max(space_w * 0.5, (CAP_X1 - CAP_X0 - sum(widths)) / (len(line) - 1))
    x = CAP_X0
    for wd, ww in zip(line, widths):
        xx = x
        for s, st in wd:
            t = make_run(xx, y, s, st)
            xx += t.get_window_extent(renderer).width
        x += ww + gap

fig.savefig('out.png', dpi=100, facecolor='white')
